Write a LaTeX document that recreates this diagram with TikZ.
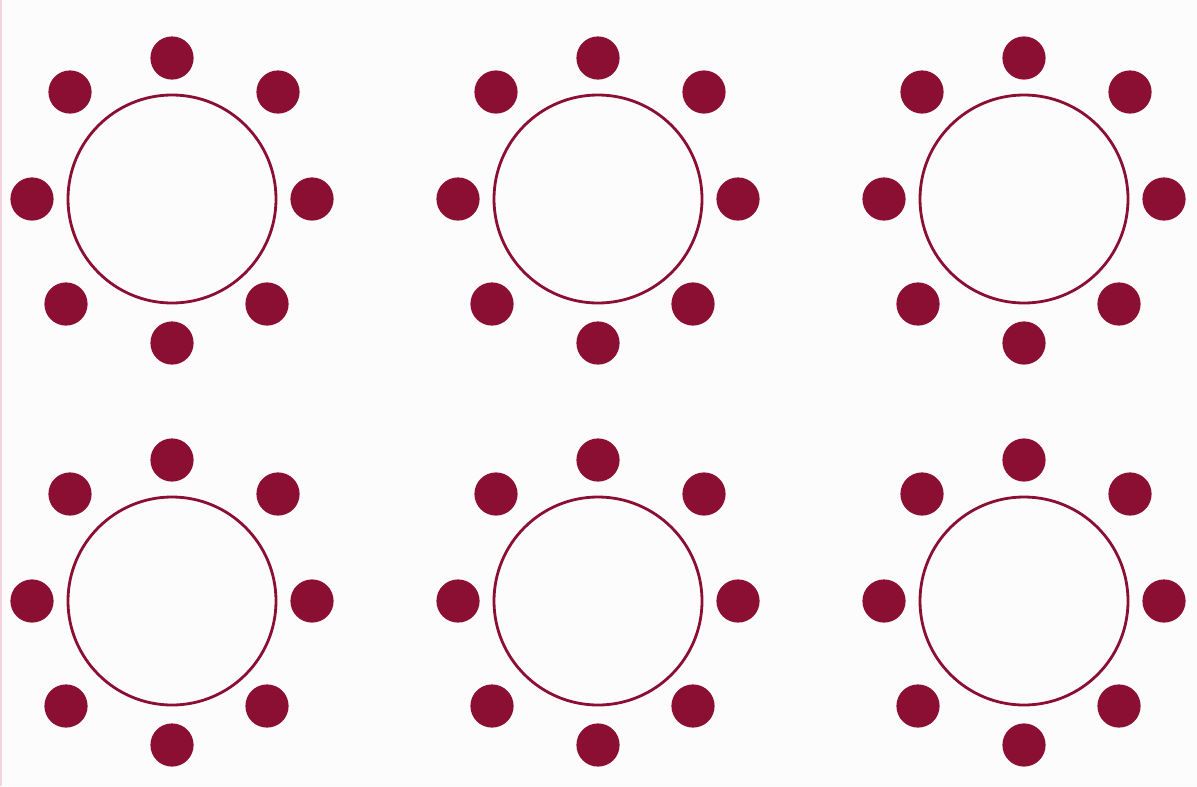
\documentclass[tikz,border=0pt]{standalone}
\usepackage{tikz}
\definecolor{tblSeat}{HTML}{8B0E33}
\definecolor{tblBack}{HTML}{FCFCFC}
\definecolor{tblEdge}{HTML}{F6D3DD}
\tikzset{
  tbltable/.style={circle,draw=tblSeat,line width=0.7mm,minimum size=52mm,inner sep=0pt},
  tblseat/.style={circle,fill=tblSeat,minimum size=10.8mm,inner sep=0pt},
}
\begin{document}
\begin{tikzpicture}[x=0.25mm,y=-0.25mm]
  \fill[tblBack] (0,0) rectangle (1197,786);
  \useasboundingbox (0,0) rectangle (1197,786);
  \draw[tblEdge,line width=0.3mm] (1,0) -- (1,786);
  \foreach \r/\cy in {1/199,2/601}{
    \foreach \c/\cx in {1/172,2/598,3/1024}{
      \node[tbltable] (T\r\c) at (\cx,\cy) {};
      \foreach \s/\dx/\dy in {1/0/-141,2/106/-107,3/140/0,4/95/105,5/0/144,6/-106/105,7/-140/0,8/-102/-107}{
        \node[tblseat] (T\r\c S\s) at (\cx+\dx,\cy+\dy) {};
      }
    }
  }
\end{tikzpicture}
\end{document}
